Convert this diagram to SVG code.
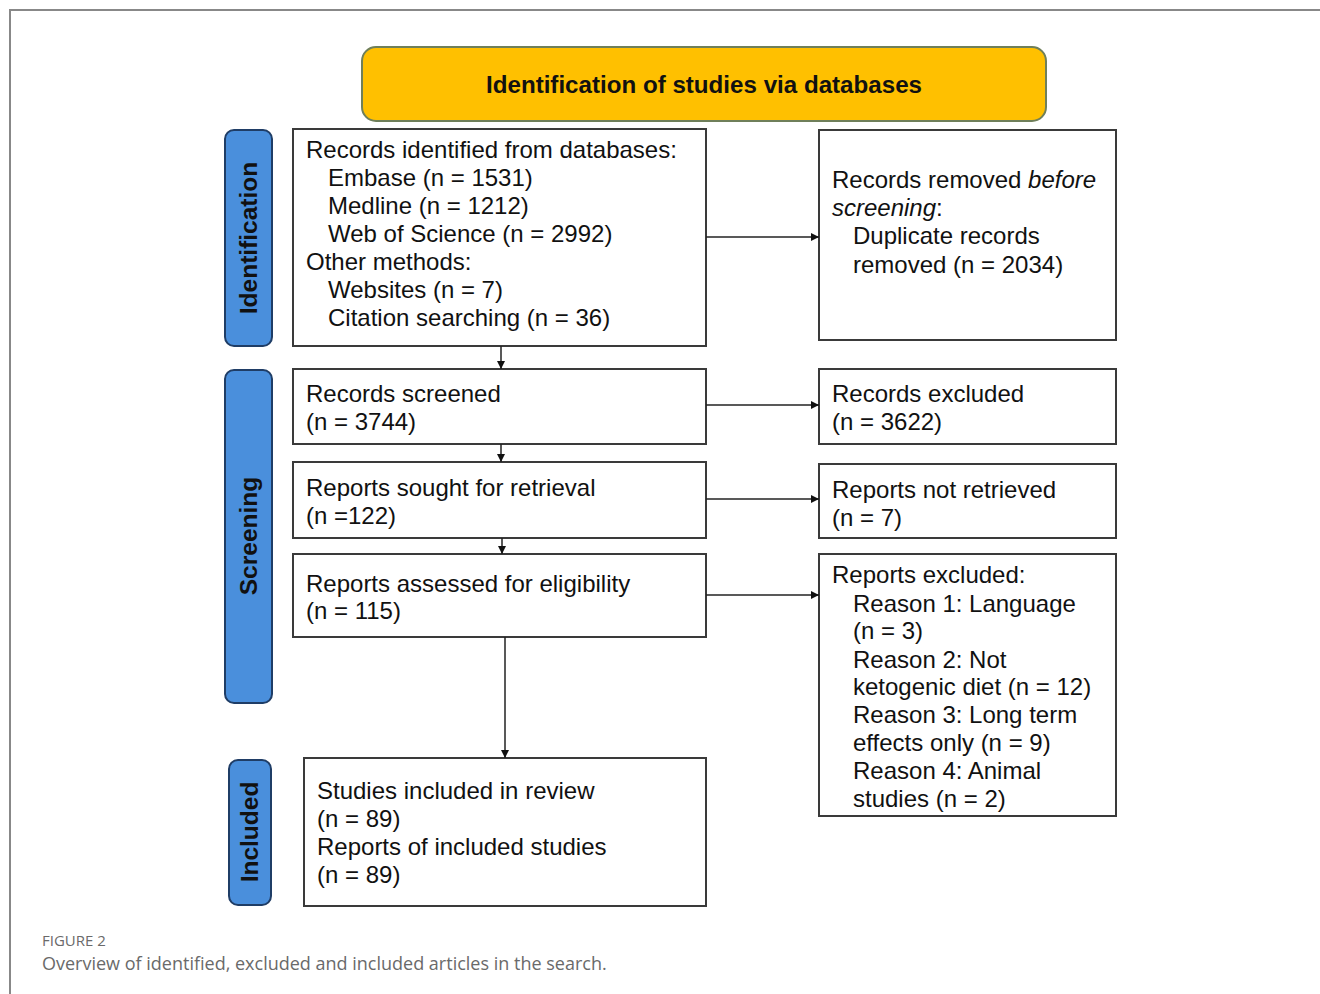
<svg xmlns="http://www.w3.org/2000/svg" width="1320" height="994" viewBox="0 0 1320 994">
<style>
.box{fill:#fff;stroke:#3a3a3a;stroke-width:2}
.side{fill:#4a8fdc;stroke:#1f3d66;stroke-width:2}
.t{font-family:"Liberation Sans",Arial,sans-serif;font-size:24px;fill:#111}
.st{font-family:"Liberation Sans",Arial,sans-serif;font-size:24.5px;font-weight:bold;fill:#111}
.ht{font-family:"Liberation Sans",Arial,sans-serif;font-size:24px;font-weight:bold;fill:#111}
.ln{stroke:#222;stroke-width:1.5;fill:none}
.cap{font-family:"Open Sans",sans-serif;fill:#6a6a6a}
</style>
<defs>
<marker id="ah" viewBox="0 0 10 10" refX="10" refY="5" markerWidth="8" markerHeight="8" markerUnits="userSpaceOnUse" orient="auto">
<path d="M0,0 L10,5 L0,10 z" fill="#111"/>
</marker>
</defs>
<rect width="1320" height="994" fill="#fff"/>
<path d="M10,994 V10 H1320" fill="none" stroke="#888" stroke-width="2"/>

<g id="header">
<rect x="362" y="47" width="684" height="74" rx="14" fill="#ffc000" stroke="#6f7f5a" stroke-width="2"/>
<text x="704" y="93" text-anchor="middle" class="ht" textLength="436" lengthAdjust="spacingAndGlyphs">Identification of studies via databases</text>
</g>

<g id="label-identification">
<rect class="side" x="225" y="130" width="47" height="216" rx="9"/>
<text class="st" transform="translate(257,238) rotate(-90)" text-anchor="middle">Identification</text>
</g>
<g id="label-screening">
<rect class="side" x="225" y="370" width="47" height="333" rx="9"/>
<text class="st" transform="translate(257,536) rotate(-90)" text-anchor="middle">Screening</text>
</g>
<g id="label-included">
<rect class="side" x="229" y="760" width="42" height="145" rx="9"/>
<text class="st" transform="translate(258,832) rotate(-90)" text-anchor="middle">Included</text>
</g>

<g id="records-identified">
<rect class="box" x="293" y="129" width="413" height="217"/>
<text class="t" x="306" y="158">Records identified from databases:</text>
<text class="t" x="328" y="186">Embase (n = 1531)</text>
<text class="t" x="328" y="214">Medline (n = 1212)</text>
<text class="t" x="328" y="242">Web of Science (n = 2992)</text>
<text class="t" x="306" y="270">Other methods:</text>
<text class="t" x="328" y="298">Websites (n = 7)</text>
<text class="t" x="328" y="326">Citation searching (n = 36)</text>
</g>

<g id="records-removed">
<rect class="box" x="819" y="130" width="297" height="210"/>
<text class="t" x="832" y="188">Records removed <tspan font-style="italic">before</tspan></text>
<text class="t" x="832" y="216"><tspan font-style="italic">screening</tspan>:</text>
<text class="t" x="853" y="244">Duplicate records</text>
<text class="t" x="853" y="273">removed (n = 2034)</text>
</g>

<g id="records-screened">
<rect class="box" x="293" y="369" width="413" height="75"/>
<text class="t" x="306" y="402">Records screened</text>
<text class="t" x="306" y="430">(n = 3744)</text>
</g>

<g id="records-excluded">
<rect class="box" x="819" y="369" width="297" height="75"/>
<text class="t" x="832" y="402">Records excluded</text>
<text class="t" x="832" y="430">(n = 3622)</text>
</g>

<g id="reports-sought">
<rect class="box" x="293" y="462" width="413" height="76"/>
<text class="t" x="306" y="496">Reports sought for retrieval</text>
<text class="t" x="306" y="524">(n =122)</text>
</g>

<g id="reports-not-retrieved">
<rect class="box" x="819" y="464" width="297" height="74"/>
<text class="t" x="832" y="498">Reports not retrieved</text>
<text class="t" x="832" y="526">(n = 7)</text>
</g>

<g id="reports-assessed">
<rect class="box" x="293" y="554" width="413" height="83"/>
<text class="t" x="306" y="592">Reports assessed for eligibility</text>
<text class="t" x="306" y="619">(n = 115)</text>
</g>

<g id="reports-excluded">
<rect class="box" x="819" y="554" width="297" height="262"/>
<text class="t" x="832" y="583">Reports excluded:</text>
<text class="t" x="853" y="612">Reason 1: Language</text>
<text class="t" x="853" y="639">(n = 3)</text>
<text class="t" x="853" y="668">Reason 2: Not</text>
<text class="t" x="853" y="695">ketogenic diet (n = 12)</text>
<text class="t" x="853" y="723">Reason 3: Long term</text>
<text class="t" x="853" y="751">effects only (n = 9)</text>
<text class="t" x="853" y="779">Reason 4: Animal</text>
<text class="t" x="853" y="807">studies (n = 2)</text>
</g>

<g id="studies-included">
<rect class="box" x="304" y="758" width="402" height="148"/>
<text class="t" x="317" y="799">Studies included in review</text>
<text class="t" x="317" y="827">(n = 89)</text>
<text class="t" x="317" y="855">Reports of included studies</text>
<text class="t" x="317" y="883">(n = 89)</text>
</g>

<g id="connectors">
<line class="ln" x1="706" y1="237" x2="819" y2="237" marker-end="url(#ah)"/>
<line class="ln" x1="501" y1="346" x2="501" y2="369" marker-end="url(#ah)"/>
<line class="ln" x1="706" y1="405" x2="819" y2="405" marker-end="url(#ah)"/>
<line class="ln" x1="501" y1="444" x2="501" y2="462" marker-end="url(#ah)"/>
<line class="ln" x1="706" y1="499" x2="819" y2="499" marker-end="url(#ah)"/>
<line class="ln" x1="502" y1="538" x2="502" y2="554" marker-end="url(#ah)"/>
<line class="ln" x1="706" y1="595" x2="819" y2="595" marker-end="url(#ah)"/>
<line class="ln" x1="505" y1="637" x2="505" y2="758" marker-end="url(#ah)"/>
</g>

<g id="caption">
<text class="cap" x="42" y="946" font-size="15">FIGURE 2</text>
<text class="cap" x="42" y="970" font-size="18">Overview of identified, excluded and included articles in the search.</text>
</g>
</svg>
